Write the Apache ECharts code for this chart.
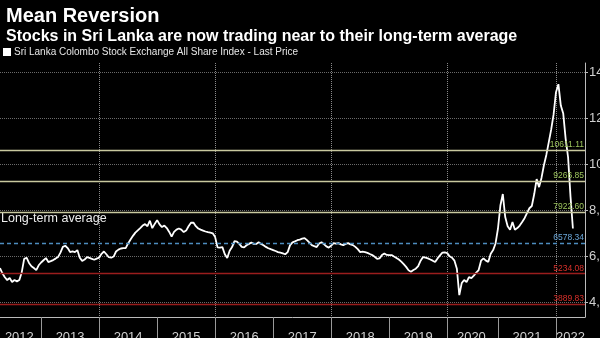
<!DOCTYPE html>
<html><head><meta charset="utf-8">
<script src="https://cdn.jsdelivr.net/npm/echarts@6/dist/echarts.min.js"></script>
<style>html,body{margin:0;padding:0;background:#000}#c{width:600px;height:338px}</style>
</head><body><div id="c"></div>
<script>
const titleText = 'Mean Reversion';
const subtitleText = 'Stocks in Sri Lanka are now trading near to their long-term average';
const seriesName = 'Sri Lanka Colombo Stock Exchange All Share Index - Last Price';
const annotationText = 'Long-term average';

// semi-monthly observations; the exchange was shut in spring 2020
const firstDate = '2012-04-15';
const lastDate = '2022-07-01';
const closedDates = ['2020-04-01', '2020-04-15', '2020-05-01'];

const values2012 = [5478, 5250, 5080, 4957, 5044, 4870, 4957, 4900, 4960, 5300, 5880, 5930, 5700, 5560, 5480, 5391, 5600];
const values2013 = [5720, 5820, 5913, 5740, 5780, 5826, 5890, 5957, 6150, 6400, 6450, 6348, 6174, 6200, 6174, 6261, 5930, 5790, 5850, 5957, 5920, 5880, 5840, 5890];
const values2014 = [5930, 6100, 6200, 6080, 5950, 5930, 5980, 6200, 6280, 6330, 6348, 6348, 6550, 6720, 6880, 7020, 7120, 7217, 7330, 7390, 7300, 7540, 7217, 7400];
const values2015 = [7565, 7380, 7261, 7330, 7220, 7050, 6850, 7050, 7150, 7200, 7150, 7043, 7110, 7300, 7450, 7460, 7300, 7200, 7150, 7110, 7070, 7040, 7020, 6990];
const values2016 = [6826, 6380, 6370, 6391, 6080, 5913, 6230, 6391, 6650, 6630, 6530, 6400, 6380, 6470, 6530, 6590, 6530, 6530, 6600, 6530, 6470, 6400, 6340, 6300];
const values2017 = [6261, 6220, 6174, 6150, 6120, 6080, 6174, 6478, 6600, 6640, 6690, 6720, 6760, 6783, 6696, 6590, 6478, 6430, 6391, 6550, 6600, 6520, 6420, 6370];
const values2018 = [6450, 6565, 6540, 6565, 6510, 6478, 6530, 6565, 6510, 6478, 6400, 6300, 6174, 6190, 6174, 6140, 6090, 6043, 5970, 5880, 5900, 6043, 6110, 6050];
const values2019 = [6043, 6043, 5980, 5920, 5850, 5760, 5650, 5530, 5380, 5320, 5391, 5450, 5560, 5800, 5957, 5930, 5900, 5850, 5800, 5740, 5900, 6030, 6150, 6160];
const values2020 = [6130, 5990, 5930, 5800, 5450, 4300, 4826, 4957, 4870, 5087, 5044, 5150, 5280, 5391, 5800, 5900, 5800, 5750, 6100, 6261, 6550];
const values2021 = [7200, 8200, 8700, 7696, 7300, 7150, 7480, 7150, 7217, 7330, 7480, 7650, 7870, 8080, 8180, 8700, 9350, 9000, 9400, 9950, 10400, 10950, 11500, 12150];
const values2022 = [13130, 13480, 12550, 12200, 11100, 10300, 8600, 7200];

const refLevels = [10611.11, 9266.85, 7922.60, 6578.34, 5234.08, 3889.83];
const refKinds = ['upper', 'upper', 'upper', 'mean', 'lower', 'lower'];
const yTicks = [4000, 6000, 8000, 10000, 12000, 14000];
const yMin = 3350, yMax = 14400;

function semiMonthly(from, to) {
  const out = [];
  let y = +from.slice(0, 4), m = +from.slice(5, 7), d = +from.slice(8, 10);
  while (true) {
    const s = y + '-' + String(m).padStart(2, '0') + '-' + String(d).padStart(2, '0');
    if (s > to) break;
    if (!closedDates.includes(s)) out.push(s);
    if (d === 1) d = 15; else { d = 1; m++; if (m > 12) { m = 1; y++; } }
  }
  return out;
}
const categories = semiMonthly(firstDate, lastDate);
const allValues = [].concat(values2012, values2013, values2014, values2015, values2016,
  values2017, values2018, values2019, values2020, values2021, values2022);
const seriesData = categories.map((c, i) => (i < allValues.length ? allValues[i] : null));

// year label in the middle of each year's span
const yearSpan = {};
categories.forEach((c, i) => {
  const yr = c.slice(0, 4);
  if (!yearSpan[yr]) yearSpan[yr] = [i, i]; else yearSpan[yr][1] = i;
});
const labelIdx = {};
Object.keys(yearSpan).forEach(yr => { labelIdx[Math.ceil((yearSpan[yr][0] + yearSpan[yr][1]) / 2)] = yr; });

const sans = '"Liberation Sans", Arial, sans-serif';
const styles = {
  upper: { line: '#c9c99f', text: '#9cc45c', type: 'solid' },
  mean: { line: '#4d8dbf', text: '#6aa6d8', type: [4, 3] },
  lower: { line: '#9a1d1d', text: '#d8302a', type: 'solid' }
};

const chart = echarts.init(document.getElementById('c'), null, { renderer: 'canvas' });
chart.setOption({
  backgroundColor: '#000',
  animation: false,
  title: [
    { text: titleText, left: 1, top: 1, textStyle: { color: '#fff', fontSize: 20, fontWeight: 'bold', fontFamily: sans } },
    { text: subtitleText, left: 1, top: 24, textStyle: { color: '#fff', fontSize: 16, fontWeight: 'bold', fontFamily: sans } }
  ],
  legend: {
    data: [seriesName], left: 3, top: 47, padding: 0, icon: 'rect', itemWidth: 8, itemHeight: 8, itemGap: 10,
    textStyle: { color: '#e6e6e6', fontSize: 10, fontFamily: sans, padding: [0, 0, 0, -2] }
  },
  grid: { left: 0, right: 15, top: 63, bottom: 21, containLabel: false, outerBoundsMode: 'none' },
  xAxis: {
    type: 'category', data: categories, boundaryGap: false,
    axisLine: { show: true, lineStyle: { color: '#bbb', width: 1 } },
    axisTick: { show: true, length: 25, lineStyle: { color: '#999' }, interval: (i, v) => v.endsWith('-01-01') },
    axisLabel: { show: true, interval: (i) => labelIdx[i] !== undefined, formatter: (v, i) => labelIdx[i] || '',
      color: '#d0d0d0', fontSize: 13, margin: 14, fontFamily: sans },
    splitLine: { show: true, interval: (i, v) => v.endsWith('-01-01') && (+v.slice(0, 4)) % 2 === 0,
      lineStyle: { color: '#8a8a8a', type: 'dotted', width: 1 } }
  },
  yAxis: {
    type: 'value', position: 'right', min: yMin, max: yMax, scale: true,
    axisLine: { show: true, lineStyle: { color: '#bbb' } },
    axisTick: { show: true, length: 3, inside: false, customValues: yTicks, lineStyle: { color: '#bbb' } },
    axisLabel: { show: true, customValues: yTicks, color: '#d0d0d0', fontSize: 13, margin: 4,
      formatter: v => Number(v).toLocaleString('en-US'), fontFamily: sans },
    splitLine: { show: true, lineStyle: { color: '#6a6a6a', type: 'dotted' } }
  },
  graphic: [
    { type: 'text', left: 1, top: 212, style: { text: annotationText, fill: '#eeeeee', font: '12.5px "Liberation Sans", Arial, sans-serif' } }
  ],
  series: [
    {
      name: 'refs', type: 'line', data: [], z: 1, silent: true,
      markLine: {
        silent: true, symbol: 'none', animation: false,
        data: refLevels.map((v, k) => ({
          yAxis: v,
          lineStyle: { color: styles[refKinds[k]].line, width: 1.3, type: styles[refKinds[k]].type },
          label: { show: true, position: 'insideEndTop', distance: [1, 1], formatter: () => v.toFixed(2),
            color: styles[refKinds[k]].text, fontSize: 8.5, fontFamily: sans }
        }))
      }
    },
    {
      name: seriesName, type: 'line', data: seriesData, z: 3, showSymbol: false, symbol: 'none',
      itemStyle: { color: '#ffffff' }, lineStyle: { color: '#ffffff', width: 1.8 }, connectNulls: false
    }
  ]
});
</script></body></html>
